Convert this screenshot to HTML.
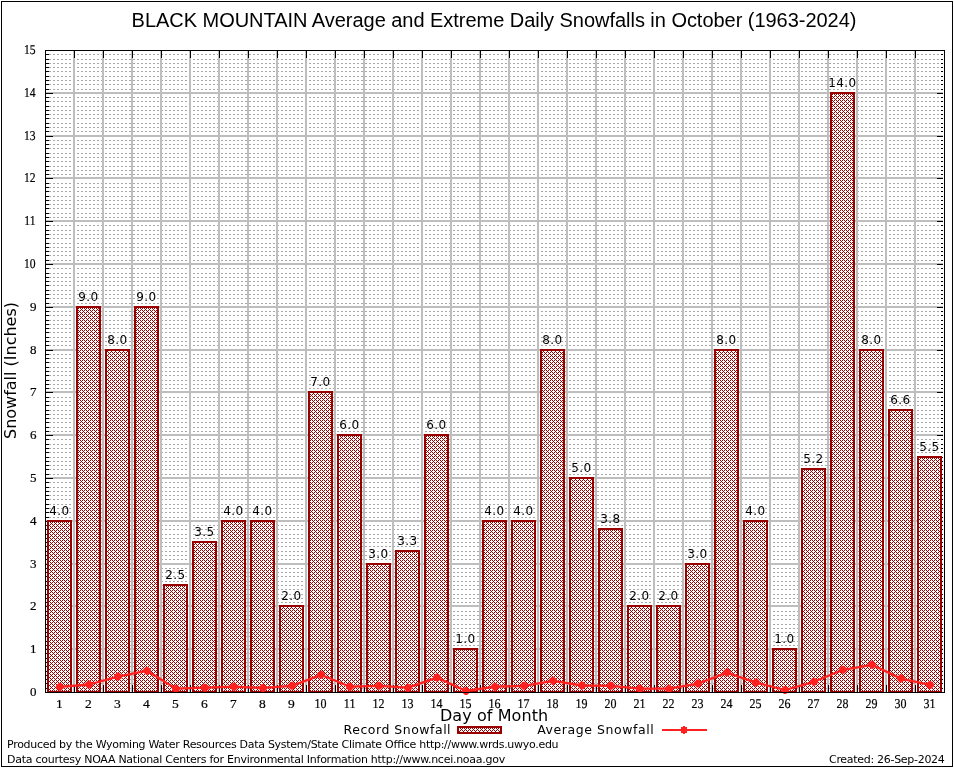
<!DOCTYPE html>
<html lang="en"><head><meta charset="utf-8"><title>BLACK MOUNTAIN Average and Extreme Daily Snowfalls in October (1963-2024)</title>
<style>html,body{margin:0;padding:0;background:#fff}body{width:954px;height:768px;overflow:hidden}svg{display:block;will-change:transform}.c{shape-rendering:crispEdges}.sv{font-family:"Liberation Serif","DejaVu Serif",serif;font-size:13px;fill:#000;stroke:#000;stroke-width:.2px}.sx{font-family:"Liberation Serif","DejaVu Serif",serif;font-size:13.5px;fill:#000;stroke:#000;stroke-width:.2px}.bl{font-family:"DejaVu Sans","Liberation Sans",sans-serif;font-size:12px;fill:#000;text-anchor:middle;letter-spacing:.33px}.ft{font-family:"DejaVu Sans","Liberation Sans",sans-serif;font-size:11px;fill:#000}.lg{font-family:"DejaVu Sans","Liberation Sans",sans-serif;font-size:12.5px;fill:#000}.ax{font-family:"DejaVu Sans","Liberation Sans",sans-serif;font-size:16px;fill:#000}.ti{font-family:"Liberation Sans","DejaVu Sans",sans-serif;font-size:20px;fill:#000}</style></head><body>
<svg width="954" height="768" viewBox="0 0 954 768">
<defs>
<pattern id="hx" x="0" y="0" width="4" height="4" patternUnits="userSpaceOnUse"><rect width="4" height="4" fill="#fff"/><g fill="#990000" class="c"><rect x="0" y="0" width="1" height="1"/><rect x="2" y="0" width="1" height="1"/><rect x="1" y="1" width="1" height="1"/><rect x="0" y="2" width="1" height="1"/><rect x="2" y="2" width="1" height="1"/><rect x="3" y="3" width="1" height="1"/></g></pattern>
<pattern id="dash" x="0" y="0" width="4" height="1" patternUnits="userSpaceOnUse"><rect x="1" y="0" width="2" height="1" fill="#a8a8a8" class="c"/></pattern>
</defs>
<rect x="0" y="0" width="954" height="768" fill="#fff"/>
<rect class="c" x="1.5" y="1.5" width="951" height="765" fill="none" stroke="#000" stroke-width="1"/>
<g class="c">
<rect x="46" y="688" width="897" height="1" fill="url(#dash)"/>
<rect x="46" y="683" width="897" height="1" fill="url(#dash)"/>
<rect x="46" y="679" width="897" height="1" fill="url(#dash)"/>
<rect x="46" y="675" width="897" height="1" fill="url(#dash)"/>
<rect x="46" y="671" width="897" height="1" fill="url(#dash)"/>
<rect x="46" y="666" width="897" height="1" fill="url(#dash)"/>
<rect x="46" y="662" width="897" height="1" fill="url(#dash)"/>
<rect x="46" y="658" width="897" height="1" fill="url(#dash)"/>
<rect x="46" y="653" width="897" height="1" fill="url(#dash)"/>
<rect x="46" y="645" width="897" height="1" fill="url(#dash)"/>
<rect x="46" y="641" width="897" height="1" fill="url(#dash)"/>
<rect x="46" y="636" width="897" height="1" fill="url(#dash)"/>
<rect x="46" y="632" width="897" height="1" fill="url(#dash)"/>
<rect x="46" y="628" width="897" height="1" fill="url(#dash)"/>
<rect x="46" y="624" width="897" height="1" fill="url(#dash)"/>
<rect x="46" y="619" width="897" height="1" fill="url(#dash)"/>
<rect x="46" y="615" width="897" height="1" fill="url(#dash)"/>
<rect x="46" y="611" width="897" height="1" fill="url(#dash)"/>
<rect x="46" y="602" width="897" height="1" fill="url(#dash)"/>
<rect x="46" y="598" width="897" height="1" fill="url(#dash)"/>
<rect x="46" y="594" width="897" height="1" fill="url(#dash)"/>
<rect x="46" y="589" width="897" height="1" fill="url(#dash)"/>
<rect x="46" y="585" width="897" height="1" fill="url(#dash)"/>
<rect x="46" y="581" width="897" height="1" fill="url(#dash)"/>
<rect x="46" y="576" width="897" height="1" fill="url(#dash)"/>
<rect x="46" y="572" width="897" height="1" fill="url(#dash)"/>
<rect x="46" y="568" width="897" height="1" fill="url(#dash)"/>
<rect x="46" y="559" width="897" height="1" fill="url(#dash)"/>
<rect x="46" y="555" width="897" height="1" fill="url(#dash)"/>
<rect x="46" y="551" width="897" height="1" fill="url(#dash)"/>
<rect x="46" y="546" width="897" height="1" fill="url(#dash)"/>
<rect x="46" y="542" width="897" height="1" fill="url(#dash)"/>
<rect x="46" y="538" width="897" height="1" fill="url(#dash)"/>
<rect x="46" y="534" width="897" height="1" fill="url(#dash)"/>
<rect x="46" y="529" width="897" height="1" fill="url(#dash)"/>
<rect x="46" y="525" width="897" height="1" fill="url(#dash)"/>
<rect x="46" y="517" width="897" height="1" fill="url(#dash)"/>
<rect x="46" y="512" width="897" height="1" fill="url(#dash)"/>
<rect x="46" y="508" width="897" height="1" fill="url(#dash)"/>
<rect x="46" y="504" width="897" height="1" fill="url(#dash)"/>
<rect x="46" y="499" width="897" height="1" fill="url(#dash)"/>
<rect x="46" y="495" width="897" height="1" fill="url(#dash)"/>
<rect x="46" y="491" width="897" height="1" fill="url(#dash)"/>
<rect x="46" y="487" width="897" height="1" fill="url(#dash)"/>
<rect x="46" y="482" width="897" height="1" fill="url(#dash)"/>
<rect x="46" y="474" width="897" height="1" fill="url(#dash)"/>
<rect x="46" y="469" width="897" height="1" fill="url(#dash)"/>
<rect x="46" y="465" width="897" height="1" fill="url(#dash)"/>
<rect x="46" y="461" width="897" height="1" fill="url(#dash)"/>
<rect x="46" y="457" width="897" height="1" fill="url(#dash)"/>
<rect x="46" y="452" width="897" height="1" fill="url(#dash)"/>
<rect x="46" y="448" width="897" height="1" fill="url(#dash)"/>
<rect x="46" y="444" width="897" height="1" fill="url(#dash)"/>
<rect x="46" y="439" width="897" height="1" fill="url(#dash)"/>
<rect x="46" y="431" width="897" height="1" fill="url(#dash)"/>
<rect x="46" y="427" width="897" height="1" fill="url(#dash)"/>
<rect x="46" y="422" width="897" height="1" fill="url(#dash)"/>
<rect x="46" y="418" width="897" height="1" fill="url(#dash)"/>
<rect x="46" y="414" width="897" height="1" fill="url(#dash)"/>
<rect x="46" y="410" width="897" height="1" fill="url(#dash)"/>
<rect x="46" y="405" width="897" height="1" fill="url(#dash)"/>
<rect x="46" y="401" width="897" height="1" fill="url(#dash)"/>
<rect x="46" y="397" width="897" height="1" fill="url(#dash)"/>
<rect x="46" y="388" width="897" height="1" fill="url(#dash)"/>
<rect x="46" y="384" width="897" height="1" fill="url(#dash)"/>
<rect x="46" y="380" width="897" height="1" fill="url(#dash)"/>
<rect x="46" y="375" width="897" height="1" fill="url(#dash)"/>
<rect x="46" y="371" width="897" height="1" fill="url(#dash)"/>
<rect x="46" y="367" width="897" height="1" fill="url(#dash)"/>
<rect x="46" y="362" width="897" height="1" fill="url(#dash)"/>
<rect x="46" y="358" width="897" height="1" fill="url(#dash)"/>
<rect x="46" y="354" width="897" height="1" fill="url(#dash)"/>
<rect x="46" y="345" width="897" height="1" fill="url(#dash)"/>
<rect x="46" y="341" width="897" height="1" fill="url(#dash)"/>
<rect x="46" y="337" width="897" height="1" fill="url(#dash)"/>
<rect x="46" y="332" width="897" height="1" fill="url(#dash)"/>
<rect x="46" y="328" width="897" height="1" fill="url(#dash)"/>
<rect x="46" y="324" width="897" height="1" fill="url(#dash)"/>
<rect x="46" y="320" width="897" height="1" fill="url(#dash)"/>
<rect x="46" y="315" width="897" height="1" fill="url(#dash)"/>
<rect x="46" y="311" width="897" height="1" fill="url(#dash)"/>
<rect x="46" y="303" width="897" height="1" fill="url(#dash)"/>
<rect x="46" y="298" width="897" height="1" fill="url(#dash)"/>
<rect x="46" y="294" width="897" height="1" fill="url(#dash)"/>
<rect x="46" y="290" width="897" height="1" fill="url(#dash)"/>
<rect x="46" y="285" width="897" height="1" fill="url(#dash)"/>
<rect x="46" y="281" width="897" height="1" fill="url(#dash)"/>
<rect x="46" y="277" width="897" height="1" fill="url(#dash)"/>
<rect x="46" y="273" width="897" height="1" fill="url(#dash)"/>
<rect x="46" y="268" width="897" height="1" fill="url(#dash)"/>
<rect x="46" y="260" width="897" height="1" fill="url(#dash)"/>
<rect x="46" y="255" width="897" height="1" fill="url(#dash)"/>
<rect x="46" y="251" width="897" height="1" fill="url(#dash)"/>
<rect x="46" y="247" width="897" height="1" fill="url(#dash)"/>
<rect x="46" y="243" width="897" height="1" fill="url(#dash)"/>
<rect x="46" y="238" width="897" height="1" fill="url(#dash)"/>
<rect x="46" y="234" width="897" height="1" fill="url(#dash)"/>
<rect x="46" y="230" width="897" height="1" fill="url(#dash)"/>
<rect x="46" y="225" width="897" height="1" fill="url(#dash)"/>
<rect x="46" y="217" width="897" height="1" fill="url(#dash)"/>
<rect x="46" y="213" width="897" height="1" fill="url(#dash)"/>
<rect x="46" y="208" width="897" height="1" fill="url(#dash)"/>
<rect x="46" y="204" width="897" height="1" fill="url(#dash)"/>
<rect x="46" y="200" width="897" height="1" fill="url(#dash)"/>
<rect x="46" y="196" width="897" height="1" fill="url(#dash)"/>
<rect x="46" y="191" width="897" height="1" fill="url(#dash)"/>
<rect x="46" y="187" width="897" height="1" fill="url(#dash)"/>
<rect x="46" y="183" width="897" height="1" fill="url(#dash)"/>
<rect x="46" y="174" width="897" height="1" fill="url(#dash)"/>
<rect x="46" y="170" width="897" height="1" fill="url(#dash)"/>
<rect x="46" y="166" width="897" height="1" fill="url(#dash)"/>
<rect x="46" y="161" width="897" height="1" fill="url(#dash)"/>
<rect x="46" y="157" width="897" height="1" fill="url(#dash)"/>
<rect x="46" y="153" width="897" height="1" fill="url(#dash)"/>
<rect x="46" y="148" width="897" height="1" fill="url(#dash)"/>
<rect x="46" y="144" width="897" height="1" fill="url(#dash)"/>
<rect x="46" y="140" width="897" height="1" fill="url(#dash)"/>
<rect x="46" y="131" width="897" height="1" fill="url(#dash)"/>
<rect x="46" y="127" width="897" height="1" fill="url(#dash)"/>
<rect x="46" y="123" width="897" height="1" fill="url(#dash)"/>
<rect x="46" y="118" width="897" height="1" fill="url(#dash)"/>
<rect x="46" y="114" width="897" height="1" fill="url(#dash)"/>
<rect x="46" y="110" width="897" height="1" fill="url(#dash)"/>
<rect x="46" y="106" width="897" height="1" fill="url(#dash)"/>
<rect x="46" y="101" width="897" height="1" fill="url(#dash)"/>
<rect x="46" y="97" width="897" height="1" fill="url(#dash)"/>
<rect x="46" y="89" width="897" height="1" fill="url(#dash)"/>
<rect x="46" y="84" width="897" height="1" fill="url(#dash)"/>
<rect x="46" y="80" width="897" height="1" fill="url(#dash)"/>
<rect x="46" y="76" width="897" height="1" fill="url(#dash)"/>
<rect x="46" y="71" width="897" height="1" fill="url(#dash)"/>
<rect x="46" y="67" width="897" height="1" fill="url(#dash)"/>
<rect x="46" y="63" width="897" height="1" fill="url(#dash)"/>
<rect x="46" y="59" width="897" height="1" fill="url(#dash)"/>
<rect x="46" y="54" width="897" height="1" fill="url(#dash)"/>
<rect x="46" y="648" width="897" height="2" fill="#bebebe"/>
<rect x="46" y="605" width="897" height="2" fill="#bebebe"/>
<rect x="46" y="563" width="897" height="2" fill="#bebebe"/>
<rect x="46" y="520" width="897" height="2" fill="#bebebe"/>
<rect x="46" y="477" width="897" height="2" fill="#bebebe"/>
<rect x="46" y="434" width="897" height="2" fill="#bebebe"/>
<rect x="46" y="391" width="897" height="2" fill="#bebebe"/>
<rect x="46" y="349" width="897" height="2" fill="#bebebe"/>
<rect x="46" y="306" width="897" height="2" fill="#bebebe"/>
<rect x="46" y="263" width="897" height="2" fill="#bebebe"/>
<rect x="46" y="220" width="897" height="2" fill="#bebebe"/>
<rect x="46" y="177" width="897" height="2" fill="#bebebe"/>
<rect x="46" y="135" width="897" height="2" fill="#bebebe"/>
<rect x="46" y="92" width="897" height="2" fill="#bebebe"/>
<rect x="73" y="51" width="2" height="641" fill="#bebebe"/>
<rect x="102" y="51" width="2" height="641" fill="#bebebe"/>
<rect x="131" y="51" width="2" height="641" fill="#bebebe"/>
<rect x="160" y="51" width="2" height="641" fill="#bebebe"/>
<rect x="189" y="51" width="2" height="641" fill="#bebebe"/>
<rect x="218" y="51" width="2" height="641" fill="#bebebe"/>
<rect x="247" y="51" width="2" height="641" fill="#bebebe"/>
<rect x="276" y="51" width="2" height="641" fill="#bebebe"/>
<rect x="305" y="51" width="2" height="641" fill="#bebebe"/>
<rect x="334" y="51" width="2" height="641" fill="#bebebe"/>
<rect x="363" y="51" width="2" height="641" fill="#bebebe"/>
<rect x="392" y="51" width="2" height="641" fill="#bebebe"/>
<rect x="421" y="51" width="2" height="641" fill="#bebebe"/>
<rect x="450" y="51" width="2" height="641" fill="#bebebe"/>
<rect x="479" y="51" width="2" height="641" fill="#bebebe"/>
<rect x="508" y="51" width="2" height="641" fill="#bebebe"/>
<rect x="537" y="51" width="2" height="641" fill="#bebebe"/>
<rect x="566" y="51" width="2" height="641" fill="#bebebe"/>
<rect x="595" y="51" width="2" height="641" fill="#bebebe"/>
<rect x="624" y="51" width="2" height="641" fill="#bebebe"/>
<rect x="653" y="51" width="2" height="641" fill="#bebebe"/>
<rect x="682" y="51" width="2" height="641" fill="#bebebe"/>
<rect x="711" y="51" width="2" height="641" fill="#bebebe"/>
<rect x="740" y="51" width="2" height="641" fill="#bebebe"/>
<rect x="769" y="51" width="2" height="641" fill="#bebebe"/>
<rect x="798" y="51" width="2" height="641" fill="#bebebe"/>
<rect x="827" y="51" width="2" height="641" fill="#bebebe"/>
<rect x="856" y="51" width="2" height="641" fill="#bebebe"/>
<rect x="885" y="51" width="2" height="641" fill="#bebebe"/>
<rect x="914" y="51" width="2" height="641" fill="#bebebe"/>
<rect x="45" y="688" width="4" height="1" fill="#000"/>
<rect x="941" y="688" width="2" height="1" fill="#000"/>
<rect x="45" y="683" width="4" height="1" fill="#000"/>
<rect x="941" y="683" width="2" height="1" fill="#000"/>
<rect x="45" y="679" width="4" height="1" fill="#000"/>
<rect x="941" y="679" width="2" height="1" fill="#000"/>
<rect x="45" y="675" width="4" height="1" fill="#000"/>
<rect x="941" y="675" width="2" height="1" fill="#000"/>
<rect x="45" y="671" width="4" height="1" fill="#000"/>
<rect x="941" y="671" width="2" height="1" fill="#000"/>
<rect x="45" y="666" width="4" height="1" fill="#000"/>
<rect x="941" y="666" width="2" height="1" fill="#000"/>
<rect x="45" y="662" width="4" height="1" fill="#000"/>
<rect x="941" y="662" width="2" height="1" fill="#000"/>
<rect x="45" y="658" width="4" height="1" fill="#000"/>
<rect x="941" y="658" width="2" height="1" fill="#000"/>
<rect x="45" y="653" width="4" height="1" fill="#000"/>
<rect x="941" y="653" width="2" height="1" fill="#000"/>
<rect x="45" y="649" width="8" height="1" fill="#000"/>
<rect x="937" y="649" width="6" height="1" fill="#000"/>
<rect x="45" y="645" width="4" height="1" fill="#000"/>
<rect x="941" y="645" width="2" height="1" fill="#000"/>
<rect x="45" y="641" width="4" height="1" fill="#000"/>
<rect x="941" y="641" width="2" height="1" fill="#000"/>
<rect x="45" y="636" width="4" height="1" fill="#000"/>
<rect x="941" y="636" width="2" height="1" fill="#000"/>
<rect x="45" y="632" width="4" height="1" fill="#000"/>
<rect x="941" y="632" width="2" height="1" fill="#000"/>
<rect x="45" y="628" width="4" height="1" fill="#000"/>
<rect x="941" y="628" width="2" height="1" fill="#000"/>
<rect x="45" y="624" width="4" height="1" fill="#000"/>
<rect x="941" y="624" width="2" height="1" fill="#000"/>
<rect x="45" y="619" width="4" height="1" fill="#000"/>
<rect x="941" y="619" width="2" height="1" fill="#000"/>
<rect x="45" y="615" width="4" height="1" fill="#000"/>
<rect x="941" y="615" width="2" height="1" fill="#000"/>
<rect x="45" y="611" width="4" height="1" fill="#000"/>
<rect x="941" y="611" width="2" height="1" fill="#000"/>
<rect x="45" y="606" width="8" height="1" fill="#000"/>
<rect x="937" y="606" width="6" height="1" fill="#000"/>
<rect x="45" y="602" width="4" height="1" fill="#000"/>
<rect x="941" y="602" width="2" height="1" fill="#000"/>
<rect x="45" y="598" width="4" height="1" fill="#000"/>
<rect x="941" y="598" width="2" height="1" fill="#000"/>
<rect x="45" y="594" width="4" height="1" fill="#000"/>
<rect x="941" y="594" width="2" height="1" fill="#000"/>
<rect x="45" y="589" width="4" height="1" fill="#000"/>
<rect x="941" y="589" width="2" height="1" fill="#000"/>
<rect x="45" y="585" width="4" height="1" fill="#000"/>
<rect x="941" y="585" width="2" height="1" fill="#000"/>
<rect x="45" y="581" width="4" height="1" fill="#000"/>
<rect x="941" y="581" width="2" height="1" fill="#000"/>
<rect x="45" y="576" width="4" height="1" fill="#000"/>
<rect x="941" y="576" width="2" height="1" fill="#000"/>
<rect x="45" y="572" width="4" height="1" fill="#000"/>
<rect x="941" y="572" width="2" height="1" fill="#000"/>
<rect x="45" y="568" width="4" height="1" fill="#000"/>
<rect x="941" y="568" width="2" height="1" fill="#000"/>
<rect x="45" y="564" width="8" height="1" fill="#000"/>
<rect x="937" y="564" width="6" height="1" fill="#000"/>
<rect x="45" y="559" width="4" height="1" fill="#000"/>
<rect x="941" y="559" width="2" height="1" fill="#000"/>
<rect x="45" y="555" width="4" height="1" fill="#000"/>
<rect x="941" y="555" width="2" height="1" fill="#000"/>
<rect x="45" y="551" width="4" height="1" fill="#000"/>
<rect x="941" y="551" width="2" height="1" fill="#000"/>
<rect x="45" y="546" width="4" height="1" fill="#000"/>
<rect x="941" y="546" width="2" height="1" fill="#000"/>
<rect x="45" y="542" width="4" height="1" fill="#000"/>
<rect x="941" y="542" width="2" height="1" fill="#000"/>
<rect x="45" y="538" width="4" height="1" fill="#000"/>
<rect x="941" y="538" width="2" height="1" fill="#000"/>
<rect x="45" y="534" width="4" height="1" fill="#000"/>
<rect x="941" y="534" width="2" height="1" fill="#000"/>
<rect x="45" y="529" width="4" height="1" fill="#000"/>
<rect x="941" y="529" width="2" height="1" fill="#000"/>
<rect x="45" y="525" width="4" height="1" fill="#000"/>
<rect x="941" y="525" width="2" height="1" fill="#000"/>
<rect x="45" y="521" width="8" height="1" fill="#000"/>
<rect x="937" y="521" width="6" height="1" fill="#000"/>
<rect x="45" y="517" width="4" height="1" fill="#000"/>
<rect x="941" y="517" width="2" height="1" fill="#000"/>
<rect x="45" y="512" width="4" height="1" fill="#000"/>
<rect x="941" y="512" width="2" height="1" fill="#000"/>
<rect x="45" y="508" width="4" height="1" fill="#000"/>
<rect x="941" y="508" width="2" height="1" fill="#000"/>
<rect x="45" y="504" width="4" height="1" fill="#000"/>
<rect x="941" y="504" width="2" height="1" fill="#000"/>
<rect x="45" y="499" width="4" height="1" fill="#000"/>
<rect x="941" y="499" width="2" height="1" fill="#000"/>
<rect x="45" y="495" width="4" height="1" fill="#000"/>
<rect x="941" y="495" width="2" height="1" fill="#000"/>
<rect x="45" y="491" width="4" height="1" fill="#000"/>
<rect x="941" y="491" width="2" height="1" fill="#000"/>
<rect x="45" y="487" width="4" height="1" fill="#000"/>
<rect x="941" y="487" width="2" height="1" fill="#000"/>
<rect x="45" y="482" width="4" height="1" fill="#000"/>
<rect x="941" y="482" width="2" height="1" fill="#000"/>
<rect x="45" y="478" width="8" height="1" fill="#000"/>
<rect x="937" y="478" width="6" height="1" fill="#000"/>
<rect x="45" y="474" width="4" height="1" fill="#000"/>
<rect x="941" y="474" width="2" height="1" fill="#000"/>
<rect x="45" y="469" width="4" height="1" fill="#000"/>
<rect x="941" y="469" width="2" height="1" fill="#000"/>
<rect x="45" y="465" width="4" height="1" fill="#000"/>
<rect x="941" y="465" width="2" height="1" fill="#000"/>
<rect x="45" y="461" width="4" height="1" fill="#000"/>
<rect x="941" y="461" width="2" height="1" fill="#000"/>
<rect x="45" y="457" width="4" height="1" fill="#000"/>
<rect x="941" y="457" width="2" height="1" fill="#000"/>
<rect x="45" y="452" width="4" height="1" fill="#000"/>
<rect x="941" y="452" width="2" height="1" fill="#000"/>
<rect x="45" y="448" width="4" height="1" fill="#000"/>
<rect x="941" y="448" width="2" height="1" fill="#000"/>
<rect x="45" y="444" width="4" height="1" fill="#000"/>
<rect x="941" y="444" width="2" height="1" fill="#000"/>
<rect x="45" y="439" width="4" height="1" fill="#000"/>
<rect x="941" y="439" width="2" height="1" fill="#000"/>
<rect x="45" y="435" width="8" height="1" fill="#000"/>
<rect x="937" y="435" width="6" height="1" fill="#000"/>
<rect x="45" y="431" width="4" height="1" fill="#000"/>
<rect x="941" y="431" width="2" height="1" fill="#000"/>
<rect x="45" y="427" width="4" height="1" fill="#000"/>
<rect x="941" y="427" width="2" height="1" fill="#000"/>
<rect x="45" y="422" width="4" height="1" fill="#000"/>
<rect x="941" y="422" width="2" height="1" fill="#000"/>
<rect x="45" y="418" width="4" height="1" fill="#000"/>
<rect x="941" y="418" width="2" height="1" fill="#000"/>
<rect x="45" y="414" width="4" height="1" fill="#000"/>
<rect x="941" y="414" width="2" height="1" fill="#000"/>
<rect x="45" y="410" width="4" height="1" fill="#000"/>
<rect x="941" y="410" width="2" height="1" fill="#000"/>
<rect x="45" y="405" width="4" height="1" fill="#000"/>
<rect x="941" y="405" width="2" height="1" fill="#000"/>
<rect x="45" y="401" width="4" height="1" fill="#000"/>
<rect x="941" y="401" width="2" height="1" fill="#000"/>
<rect x="45" y="397" width="4" height="1" fill="#000"/>
<rect x="941" y="397" width="2" height="1" fill="#000"/>
<rect x="45" y="392" width="8" height="1" fill="#000"/>
<rect x="937" y="392" width="6" height="1" fill="#000"/>
<rect x="45" y="388" width="4" height="1" fill="#000"/>
<rect x="941" y="388" width="2" height="1" fill="#000"/>
<rect x="45" y="384" width="4" height="1" fill="#000"/>
<rect x="941" y="384" width="2" height="1" fill="#000"/>
<rect x="45" y="380" width="4" height="1" fill="#000"/>
<rect x="941" y="380" width="2" height="1" fill="#000"/>
<rect x="45" y="375" width="4" height="1" fill="#000"/>
<rect x="941" y="375" width="2" height="1" fill="#000"/>
<rect x="45" y="371" width="4" height="1" fill="#000"/>
<rect x="941" y="371" width="2" height="1" fill="#000"/>
<rect x="45" y="367" width="4" height="1" fill="#000"/>
<rect x="941" y="367" width="2" height="1" fill="#000"/>
<rect x="45" y="362" width="4" height="1" fill="#000"/>
<rect x="941" y="362" width="2" height="1" fill="#000"/>
<rect x="45" y="358" width="4" height="1" fill="#000"/>
<rect x="941" y="358" width="2" height="1" fill="#000"/>
<rect x="45" y="354" width="4" height="1" fill="#000"/>
<rect x="941" y="354" width="2" height="1" fill="#000"/>
<rect x="45" y="350" width="8" height="1" fill="#000"/>
<rect x="937" y="350" width="6" height="1" fill="#000"/>
<rect x="45" y="345" width="4" height="1" fill="#000"/>
<rect x="941" y="345" width="2" height="1" fill="#000"/>
<rect x="45" y="341" width="4" height="1" fill="#000"/>
<rect x="941" y="341" width="2" height="1" fill="#000"/>
<rect x="45" y="337" width="4" height="1" fill="#000"/>
<rect x="941" y="337" width="2" height="1" fill="#000"/>
<rect x="45" y="332" width="4" height="1" fill="#000"/>
<rect x="941" y="332" width="2" height="1" fill="#000"/>
<rect x="45" y="328" width="4" height="1" fill="#000"/>
<rect x="941" y="328" width="2" height="1" fill="#000"/>
<rect x="45" y="324" width="4" height="1" fill="#000"/>
<rect x="941" y="324" width="2" height="1" fill="#000"/>
<rect x="45" y="320" width="4" height="1" fill="#000"/>
<rect x="941" y="320" width="2" height="1" fill="#000"/>
<rect x="45" y="315" width="4" height="1" fill="#000"/>
<rect x="941" y="315" width="2" height="1" fill="#000"/>
<rect x="45" y="311" width="4" height="1" fill="#000"/>
<rect x="941" y="311" width="2" height="1" fill="#000"/>
<rect x="45" y="307" width="8" height="1" fill="#000"/>
<rect x="937" y="307" width="6" height="1" fill="#000"/>
<rect x="45" y="303" width="4" height="1" fill="#000"/>
<rect x="941" y="303" width="2" height="1" fill="#000"/>
<rect x="45" y="298" width="4" height="1" fill="#000"/>
<rect x="941" y="298" width="2" height="1" fill="#000"/>
<rect x="45" y="294" width="4" height="1" fill="#000"/>
<rect x="941" y="294" width="2" height="1" fill="#000"/>
<rect x="45" y="290" width="4" height="1" fill="#000"/>
<rect x="941" y="290" width="2" height="1" fill="#000"/>
<rect x="45" y="285" width="4" height="1" fill="#000"/>
<rect x="941" y="285" width="2" height="1" fill="#000"/>
<rect x="45" y="281" width="4" height="1" fill="#000"/>
<rect x="941" y="281" width="2" height="1" fill="#000"/>
<rect x="45" y="277" width="4" height="1" fill="#000"/>
<rect x="941" y="277" width="2" height="1" fill="#000"/>
<rect x="45" y="273" width="4" height="1" fill="#000"/>
<rect x="941" y="273" width="2" height="1" fill="#000"/>
<rect x="45" y="268" width="4" height="1" fill="#000"/>
<rect x="941" y="268" width="2" height="1" fill="#000"/>
<rect x="45" y="264" width="8" height="1" fill="#000"/>
<rect x="937" y="264" width="6" height="1" fill="#000"/>
<rect x="45" y="260" width="4" height="1" fill="#000"/>
<rect x="941" y="260" width="2" height="1" fill="#000"/>
<rect x="45" y="255" width="4" height="1" fill="#000"/>
<rect x="941" y="255" width="2" height="1" fill="#000"/>
<rect x="45" y="251" width="4" height="1" fill="#000"/>
<rect x="941" y="251" width="2" height="1" fill="#000"/>
<rect x="45" y="247" width="4" height="1" fill="#000"/>
<rect x="941" y="247" width="2" height="1" fill="#000"/>
<rect x="45" y="243" width="4" height="1" fill="#000"/>
<rect x="941" y="243" width="2" height="1" fill="#000"/>
<rect x="45" y="238" width="4" height="1" fill="#000"/>
<rect x="941" y="238" width="2" height="1" fill="#000"/>
<rect x="45" y="234" width="4" height="1" fill="#000"/>
<rect x="941" y="234" width="2" height="1" fill="#000"/>
<rect x="45" y="230" width="4" height="1" fill="#000"/>
<rect x="941" y="230" width="2" height="1" fill="#000"/>
<rect x="45" y="225" width="4" height="1" fill="#000"/>
<rect x="941" y="225" width="2" height="1" fill="#000"/>
<rect x="45" y="221" width="8" height="1" fill="#000"/>
<rect x="937" y="221" width="6" height="1" fill="#000"/>
<rect x="45" y="217" width="4" height="1" fill="#000"/>
<rect x="941" y="217" width="2" height="1" fill="#000"/>
<rect x="45" y="213" width="4" height="1" fill="#000"/>
<rect x="941" y="213" width="2" height="1" fill="#000"/>
<rect x="45" y="208" width="4" height="1" fill="#000"/>
<rect x="941" y="208" width="2" height="1" fill="#000"/>
<rect x="45" y="204" width="4" height="1" fill="#000"/>
<rect x="941" y="204" width="2" height="1" fill="#000"/>
<rect x="45" y="200" width="4" height="1" fill="#000"/>
<rect x="941" y="200" width="2" height="1" fill="#000"/>
<rect x="45" y="196" width="4" height="1" fill="#000"/>
<rect x="941" y="196" width="2" height="1" fill="#000"/>
<rect x="45" y="191" width="4" height="1" fill="#000"/>
<rect x="941" y="191" width="2" height="1" fill="#000"/>
<rect x="45" y="187" width="4" height="1" fill="#000"/>
<rect x="941" y="187" width="2" height="1" fill="#000"/>
<rect x="45" y="183" width="4" height="1" fill="#000"/>
<rect x="941" y="183" width="2" height="1" fill="#000"/>
<rect x="45" y="178" width="8" height="1" fill="#000"/>
<rect x="937" y="178" width="6" height="1" fill="#000"/>
<rect x="45" y="174" width="4" height="1" fill="#000"/>
<rect x="941" y="174" width="2" height="1" fill="#000"/>
<rect x="45" y="170" width="4" height="1" fill="#000"/>
<rect x="941" y="170" width="2" height="1" fill="#000"/>
<rect x="45" y="166" width="4" height="1" fill="#000"/>
<rect x="941" y="166" width="2" height="1" fill="#000"/>
<rect x="45" y="161" width="4" height="1" fill="#000"/>
<rect x="941" y="161" width="2" height="1" fill="#000"/>
<rect x="45" y="157" width="4" height="1" fill="#000"/>
<rect x="941" y="157" width="2" height="1" fill="#000"/>
<rect x="45" y="153" width="4" height="1" fill="#000"/>
<rect x="941" y="153" width="2" height="1" fill="#000"/>
<rect x="45" y="148" width="4" height="1" fill="#000"/>
<rect x="941" y="148" width="2" height="1" fill="#000"/>
<rect x="45" y="144" width="4" height="1" fill="#000"/>
<rect x="941" y="144" width="2" height="1" fill="#000"/>
<rect x="45" y="140" width="4" height="1" fill="#000"/>
<rect x="941" y="140" width="2" height="1" fill="#000"/>
<rect x="45" y="136" width="8" height="1" fill="#000"/>
<rect x="937" y="136" width="6" height="1" fill="#000"/>
<rect x="45" y="131" width="4" height="1" fill="#000"/>
<rect x="941" y="131" width="2" height="1" fill="#000"/>
<rect x="45" y="127" width="4" height="1" fill="#000"/>
<rect x="941" y="127" width="2" height="1" fill="#000"/>
<rect x="45" y="123" width="4" height="1" fill="#000"/>
<rect x="941" y="123" width="2" height="1" fill="#000"/>
<rect x="45" y="118" width="4" height="1" fill="#000"/>
<rect x="941" y="118" width="2" height="1" fill="#000"/>
<rect x="45" y="114" width="4" height="1" fill="#000"/>
<rect x="941" y="114" width="2" height="1" fill="#000"/>
<rect x="45" y="110" width="4" height="1" fill="#000"/>
<rect x="941" y="110" width="2" height="1" fill="#000"/>
<rect x="45" y="106" width="4" height="1" fill="#000"/>
<rect x="941" y="106" width="2" height="1" fill="#000"/>
<rect x="45" y="101" width="4" height="1" fill="#000"/>
<rect x="941" y="101" width="2" height="1" fill="#000"/>
<rect x="45" y="97" width="4" height="1" fill="#000"/>
<rect x="941" y="97" width="2" height="1" fill="#000"/>
<rect x="45" y="93" width="8" height="1" fill="#000"/>
<rect x="937" y="93" width="6" height="1" fill="#000"/>
<rect x="45" y="89" width="4" height="1" fill="#000"/>
<rect x="941" y="89" width="2" height="1" fill="#000"/>
<rect x="45" y="84" width="4" height="1" fill="#000"/>
<rect x="941" y="84" width="2" height="1" fill="#000"/>
<rect x="45" y="80" width="4" height="1" fill="#000"/>
<rect x="941" y="80" width="2" height="1" fill="#000"/>
<rect x="45" y="76" width="4" height="1" fill="#000"/>
<rect x="941" y="76" width="2" height="1" fill="#000"/>
<rect x="45" y="71" width="4" height="1" fill="#000"/>
<rect x="941" y="71" width="2" height="1" fill="#000"/>
<rect x="45" y="67" width="4" height="1" fill="#000"/>
<rect x="941" y="67" width="2" height="1" fill="#000"/>
<rect x="45" y="63" width="4" height="1" fill="#000"/>
<rect x="941" y="63" width="2" height="1" fill="#000"/>
<rect x="45" y="59" width="4" height="1" fill="#000"/>
<rect x="941" y="59" width="2" height="1" fill="#000"/>
<rect x="45" y="54" width="4" height="1" fill="#000"/>
<rect x="941" y="54" width="2" height="1" fill="#000"/>
<rect x="74" y="50" width="1" height="8" fill="#000"/>
<rect x="74" y="685" width="1" height="8" fill="#000"/>
<rect x="103" y="50" width="1" height="8" fill="#000"/>
<rect x="103" y="685" width="1" height="8" fill="#000"/>
<rect x="132" y="50" width="1" height="8" fill="#000"/>
<rect x="132" y="685" width="1" height="8" fill="#000"/>
<rect x="161" y="50" width="1" height="8" fill="#000"/>
<rect x="161" y="685" width="1" height="8" fill="#000"/>
<rect x="190" y="50" width="1" height="8" fill="#000"/>
<rect x="190" y="685" width="1" height="8" fill="#000"/>
<rect x="219" y="50" width="1" height="8" fill="#000"/>
<rect x="219" y="685" width="1" height="8" fill="#000"/>
<rect x="248" y="50" width="1" height="8" fill="#000"/>
<rect x="248" y="685" width="1" height="8" fill="#000"/>
<rect x="277" y="50" width="1" height="8" fill="#000"/>
<rect x="277" y="685" width="1" height="8" fill="#000"/>
<rect x="306" y="50" width="1" height="8" fill="#000"/>
<rect x="306" y="685" width="1" height="8" fill="#000"/>
<rect x="335" y="50" width="1" height="8" fill="#000"/>
<rect x="335" y="685" width="1" height="8" fill="#000"/>
<rect x="364" y="50" width="1" height="8" fill="#000"/>
<rect x="364" y="685" width="1" height="8" fill="#000"/>
<rect x="393" y="50" width="1" height="8" fill="#000"/>
<rect x="393" y="685" width="1" height="8" fill="#000"/>
<rect x="422" y="50" width="1" height="8" fill="#000"/>
<rect x="422" y="685" width="1" height="8" fill="#000"/>
<rect x="451" y="50" width="1" height="8" fill="#000"/>
<rect x="451" y="685" width="1" height="8" fill="#000"/>
<rect x="480" y="50" width="1" height="8" fill="#000"/>
<rect x="480" y="685" width="1" height="8" fill="#000"/>
<rect x="509" y="50" width="1" height="8" fill="#000"/>
<rect x="509" y="685" width="1" height="8" fill="#000"/>
<rect x="538" y="50" width="1" height="8" fill="#000"/>
<rect x="538" y="685" width="1" height="8" fill="#000"/>
<rect x="567" y="50" width="1" height="8" fill="#000"/>
<rect x="567" y="685" width="1" height="8" fill="#000"/>
<rect x="596" y="50" width="1" height="8" fill="#000"/>
<rect x="596" y="685" width="1" height="8" fill="#000"/>
<rect x="625" y="50" width="1" height="8" fill="#000"/>
<rect x="625" y="685" width="1" height="8" fill="#000"/>
<rect x="654" y="50" width="1" height="8" fill="#000"/>
<rect x="654" y="685" width="1" height="8" fill="#000"/>
<rect x="683" y="50" width="1" height="8" fill="#000"/>
<rect x="683" y="685" width="1" height="8" fill="#000"/>
<rect x="712" y="50" width="1" height="8" fill="#000"/>
<rect x="712" y="685" width="1" height="8" fill="#000"/>
<rect x="741" y="50" width="1" height="8" fill="#000"/>
<rect x="741" y="685" width="1" height="8" fill="#000"/>
<rect x="770" y="50" width="1" height="8" fill="#000"/>
<rect x="770" y="685" width="1" height="8" fill="#000"/>
<rect x="799" y="50" width="1" height="8" fill="#000"/>
<rect x="799" y="685" width="1" height="8" fill="#000"/>
<rect x="828" y="50" width="1" height="8" fill="#000"/>
<rect x="828" y="685" width="1" height="8" fill="#000"/>
<rect x="857" y="50" width="1" height="8" fill="#000"/>
<rect x="857" y="685" width="1" height="8" fill="#000"/>
<rect x="886" y="50" width="1" height="8" fill="#000"/>
<rect x="886" y="685" width="1" height="8" fill="#000"/>
<rect x="915" y="50" width="1" height="8" fill="#000"/>
<rect x="915" y="685" width="1" height="8" fill="#000"/>
</g>
<g class="c">
<rect x="47" y="520" width="25" height="172" fill="#990000"/>
<rect x="49" y="522" width="21" height="169" fill="url(#hx)"/>
<rect x="76" y="306" width="25" height="386" fill="#990000"/>
<rect x="78" y="308" width="21" height="383" fill="url(#hx)"/>
<rect x="105" y="349" width="25" height="343" fill="#990000"/>
<rect x="107" y="351" width="21" height="340" fill="url(#hx)"/>
<rect x="134" y="306" width="25" height="386" fill="#990000"/>
<rect x="136" y="308" width="21" height="383" fill="url(#hx)"/>
<rect x="163" y="584" width="25" height="108" fill="#990000"/>
<rect x="165" y="586" width="21" height="105" fill="url(#hx)"/>
<rect x="192" y="541" width="25" height="151" fill="#990000"/>
<rect x="194" y="543" width="21" height="148" fill="url(#hx)"/>
<rect x="221" y="520" width="25" height="172" fill="#990000"/>
<rect x="223" y="522" width="21" height="169" fill="url(#hx)"/>
<rect x="250" y="520" width="25" height="172" fill="#990000"/>
<rect x="252" y="522" width="21" height="169" fill="url(#hx)"/>
<rect x="279" y="605" width="25" height="87" fill="#990000"/>
<rect x="281" y="607" width="21" height="84" fill="url(#hx)"/>
<rect x="308" y="391" width="25" height="301" fill="#990000"/>
<rect x="310" y="393" width="21" height="298" fill="url(#hx)"/>
<rect x="337" y="434" width="25" height="258" fill="#990000"/>
<rect x="339" y="436" width="21" height="255" fill="url(#hx)"/>
<rect x="366" y="563" width="25" height="129" fill="#990000"/>
<rect x="368" y="565" width="21" height="126" fill="url(#hx)"/>
<rect x="395" y="550" width="25" height="142" fill="#990000"/>
<rect x="397" y="552" width="21" height="139" fill="url(#hx)"/>
<rect x="424" y="434" width="25" height="258" fill="#990000"/>
<rect x="426" y="436" width="21" height="255" fill="url(#hx)"/>
<rect x="453" y="648" width="25" height="44" fill="#990000"/>
<rect x="455" y="650" width="21" height="41" fill="url(#hx)"/>
<rect x="482" y="520" width="25" height="172" fill="#990000"/>
<rect x="484" y="522" width="21" height="169" fill="url(#hx)"/>
<rect x="511" y="520" width="25" height="172" fill="#990000"/>
<rect x="513" y="522" width="21" height="169" fill="url(#hx)"/>
<rect x="540" y="349" width="25" height="343" fill="#990000"/>
<rect x="542" y="351" width="21" height="340" fill="url(#hx)"/>
<rect x="569" y="477" width="25" height="215" fill="#990000"/>
<rect x="571" y="479" width="21" height="212" fill="url(#hx)"/>
<rect x="598" y="528" width="25" height="164" fill="#990000"/>
<rect x="600" y="530" width="21" height="161" fill="url(#hx)"/>
<rect x="627" y="605" width="25" height="87" fill="#990000"/>
<rect x="629" y="607" width="21" height="84" fill="url(#hx)"/>
<rect x="656" y="605" width="25" height="87" fill="#990000"/>
<rect x="658" y="607" width="21" height="84" fill="url(#hx)"/>
<rect x="685" y="563" width="25" height="129" fill="#990000"/>
<rect x="687" y="565" width="21" height="126" fill="url(#hx)"/>
<rect x="714" y="349" width="25" height="343" fill="#990000"/>
<rect x="716" y="351" width="21" height="340" fill="url(#hx)"/>
<rect x="743" y="520" width="25" height="172" fill="#990000"/>
<rect x="745" y="522" width="21" height="169" fill="url(#hx)"/>
<rect x="772" y="648" width="25" height="44" fill="#990000"/>
<rect x="774" y="650" width="21" height="41" fill="url(#hx)"/>
<rect x="801" y="468" width="25" height="224" fill="#990000"/>
<rect x="803" y="470" width="21" height="221" fill="url(#hx)"/>
<rect x="830" y="92" width="25" height="600" fill="#990000"/>
<rect x="832" y="94" width="21" height="597" fill="url(#hx)"/>
<rect x="859" y="349" width="25" height="343" fill="#990000"/>
<rect x="861" y="351" width="21" height="340" fill="url(#hx)"/>
<rect x="888" y="409" width="25" height="283" fill="#990000"/>
<rect x="890" y="411" width="21" height="280" fill="url(#hx)"/>
<rect x="917" y="456" width="25" height="236" fill="#990000"/>
<rect x="919" y="458" width="21" height="233" fill="url(#hx)"/>
</g>
<text class="bl" x="59.35" y="515">4.0</text>
<text class="bl" x="88.35" y="301">9.0</text>
<text class="bl" x="117.35" y="344">8.0</text>
<text class="bl" x="146.35" y="301">9.0</text>
<text class="bl" x="175.35" y="579">2.5</text>
<text class="bl" x="204.35" y="536">3.5</text>
<text class="bl" x="233.35" y="515">4.0</text>
<text class="bl" x="262.35" y="515">4.0</text>
<text class="bl" x="291.35" y="600">2.0</text>
<text class="bl" x="320.35" y="386">7.0</text>
<text class="bl" x="349.35" y="429">6.0</text>
<text class="bl" x="378.35" y="558">3.0</text>
<text class="bl" x="407.35" y="545">3.3</text>
<text class="bl" x="436.35" y="429">6.0</text>
<text class="bl" x="465.35" y="643">1.0</text>
<text class="bl" x="494.35" y="515">4.0</text>
<text class="bl" x="523.35" y="515">4.0</text>
<text class="bl" x="552.35" y="344">8.0</text>
<text class="bl" x="581.35" y="472">5.0</text>
<text class="bl" x="610.35" y="523">3.8</text>
<text class="bl" x="639.35" y="600">2.0</text>
<text class="bl" x="668.35" y="600">2.0</text>
<text class="bl" x="697.35" y="558">3.0</text>
<text class="bl" x="726.35" y="344">8.0</text>
<text class="bl" x="755.35" y="515">4.0</text>
<text class="bl" x="784.35" y="643">1.0</text>
<text class="bl" x="813.35" y="463">5.2</text>
<text class="bl" x="842.35" y="87">14.0</text>
<text class="bl" x="871.35" y="344">8.0</text>
<text class="bl" x="900.35" y="404">6.6</text>
<text class="bl" x="929.35" y="451">5.5</text>
<polyline points="60,686.8 89,684.5 118,676.6 147,670.7 176,688.7 205,687.7 234,686.7 263,687.9 292,685.8 321,674.8 350,686.7 379,685.8 408,687.7 437,677.6 466,691 495,686.7 524,685.8 553,680.8 582,685.5 611,685.8 640,688.7 669,688.7 698,683.6 727,672.6 756,682.6 785,690 814,681.8 843,669.8 872,664.8 901,678.6 930,684.9" fill="none" stroke="#ff2020" stroke-width="2.3" stroke-linejoin="round"/>
<path d="M59,682.8L61,682.8L63.8,685.3L63.8,688.3L61,690.8L59,690.8L56.2,688.3L56.2,685.3Z" fill="#ff2020"/>
<path d="M88,680.5L90,680.5L92.8,683.0L92.8,686.0L90,688.5L88,688.5L85.2,686.0L85.2,683.0Z" fill="#ff2020"/>
<path d="M117,672.6L119,672.6L121.8,675.1L121.8,678.1L119,680.6L117,680.6L114.2,678.1L114.2,675.1Z" fill="#ff2020"/>
<path d="M146,666.7L148,666.7L150.8,669.2L150.8,672.2L148,674.7L146,674.7L143.2,672.2L143.2,669.2Z" fill="#ff2020"/>
<path d="M175,684.7L177,684.7L179.8,687.2L179.8,690.2L177,692.7L175,692.7L172.2,690.2L172.2,687.2Z" fill="#ff2020"/>
<path d="M204,683.7L206,683.7L208.8,686.2L208.8,689.2L206,691.7L204,691.7L201.2,689.2L201.2,686.2Z" fill="#ff2020"/>
<path d="M233,682.7L235,682.7L237.8,685.2L237.8,688.2L235,690.7L233,690.7L230.2,688.2L230.2,685.2Z" fill="#ff2020"/>
<path d="M262,683.9L264,683.9L266.8,686.4L266.8,689.4L264,691.9L262,691.9L259.2,689.4L259.2,686.4Z" fill="#ff2020"/>
<path d="M291,681.8L293,681.8L295.8,684.3L295.8,687.3L293,689.8L291,689.8L288.2,687.3L288.2,684.3Z" fill="#ff2020"/>
<path d="M320,670.8L322,670.8L324.8,673.3L324.8,676.3L322,678.8L320,678.8L317.2,676.3L317.2,673.3Z" fill="#ff2020"/>
<path d="M349,682.7L351,682.7L353.8,685.2L353.8,688.2L351,690.7L349,690.7L346.2,688.2L346.2,685.2Z" fill="#ff2020"/>
<path d="M378,681.8L380,681.8L382.8,684.3L382.8,687.3L380,689.8L378,689.8L375.2,687.3L375.2,684.3Z" fill="#ff2020"/>
<path d="M407,683.7L409,683.7L411.8,686.2L411.8,689.2L409,691.7L407,691.7L404.2,689.2L404.2,686.2Z" fill="#ff2020"/>
<path d="M436,673.6L438,673.6L440.8,676.1L440.8,679.1L438,681.6L436,681.6L433.2,679.1L433.2,676.1Z" fill="#ff2020"/>
<path d="M465,687L467,687L469.8,689.5L469.8,692.5L467,695L465,695L462.2,692.5L462.2,689.5Z" fill="#ff2020"/>
<path d="M494,682.7L496,682.7L498.8,685.2L498.8,688.2L496,690.7L494,690.7L491.2,688.2L491.2,685.2Z" fill="#ff2020"/>
<path d="M523,681.8L525,681.8L527.8,684.3L527.8,687.3L525,689.8L523,689.8L520.2,687.3L520.2,684.3Z" fill="#ff2020"/>
<path d="M552,676.8L554,676.8L556.8,679.3L556.8,682.3L554,684.8L552,684.8L549.2,682.3L549.2,679.3Z" fill="#ff2020"/>
<path d="M581,681.5L583,681.5L585.8,684.0L585.8,687.0L583,689.5L581,689.5L578.2,687.0L578.2,684.0Z" fill="#ff2020"/>
<path d="M610,681.8L612,681.8L614.8,684.3L614.8,687.3L612,689.8L610,689.8L607.2,687.3L607.2,684.3Z" fill="#ff2020"/>
<path d="M639,684.7L641,684.7L643.8,687.2L643.8,690.2L641,692.7L639,692.7L636.2,690.2L636.2,687.2Z" fill="#ff2020"/>
<path d="M668,684.7L670,684.7L672.8,687.2L672.8,690.2L670,692.7L668,692.7L665.2,690.2L665.2,687.2Z" fill="#ff2020"/>
<path d="M697,679.6L699,679.6L701.8,682.1L701.8,685.1L699,687.6L697,687.6L694.2,685.1L694.2,682.1Z" fill="#ff2020"/>
<path d="M726,668.6L728,668.6L730.8,671.1L730.8,674.1L728,676.6L726,676.6L723.2,674.1L723.2,671.1Z" fill="#ff2020"/>
<path d="M755,678.6L757,678.6L759.8,681.1L759.8,684.1L757,686.6L755,686.6L752.2,684.1L752.2,681.1Z" fill="#ff2020"/>
<path d="M784,686L786,686L788.8,688.5L788.8,691.5L786,694L784,694L781.2,691.5L781.2,688.5Z" fill="#ff2020"/>
<path d="M813,677.8L815,677.8L817.8,680.3L817.8,683.3L815,685.8L813,685.8L810.2,683.3L810.2,680.3Z" fill="#ff2020"/>
<path d="M842,665.8L844,665.8L846.8,668.3L846.8,671.3L844,673.8L842,673.8L839.2,671.3L839.2,668.3Z" fill="#ff2020"/>
<path d="M871,660.8L873,660.8L875.8,663.3L875.8,666.3L873,668.8L871,668.8L868.2,666.3L868.2,663.3Z" fill="#ff2020"/>
<path d="M900,674.6L902,674.6L904.8,677.1L904.8,680.1L902,682.6L900,682.6L897.2,680.1L897.2,677.1Z" fill="#ff2020"/>
<path d="M929,680.9L931,680.9L933.8,683.4L933.8,686.4L931,688.9L929,688.9L926.2,686.4L926.2,683.4Z" fill="#ff2020"/>
<g class="c" fill="#000"><rect x="45" y="50" width="900" height="1"/><rect x="45" y="692" width="900" height="1"/><rect x="45" y="50" width="1" height="643"/><rect x="944" y="50" width="1" height="643"/></g>
<text class="sv" x="36.6" y="695.9" text-anchor="end">0</text>
<text class="sv" x="36.6" y="652.9" text-anchor="end">1</text>
<text class="sv" x="36.6" y="609.9" text-anchor="end">2</text>
<text class="sv" x="36.6" y="567.9" text-anchor="end">3</text>
<text class="sv" x="36.6" y="524.9" text-anchor="end">4</text>
<text class="sv" x="36.6" y="481.9" text-anchor="end">5</text>
<text class="sv" x="36.6" y="438.9" text-anchor="end">6</text>
<text class="sv" x="36.6" y="395.9" text-anchor="end">7</text>
<text class="sv" x="36.6" y="353.9" text-anchor="end">8</text>
<text class="sv" x="36.6" y="310.9" text-anchor="end">9</text>
<text class="sv" style="font-size:13.5px;text-rendering:geometricPrecision" transform="translate(35.5,267.8) scale(.86,1)" text-anchor="end">10</text>
<text class="sv" style="font-size:13.5px;text-rendering:geometricPrecision" transform="translate(35.5,224.8) scale(.86,1)" text-anchor="end">11</text>
<text class="sv" style="font-size:13.5px;text-rendering:geometricPrecision" transform="translate(35.5,181.8) scale(.86,1)" text-anchor="end">12</text>
<text class="sv" style="font-size:13.5px;text-rendering:geometricPrecision" transform="translate(35.5,139.8) scale(.86,1)" text-anchor="end">13</text>
<text class="sv" style="font-size:13.5px;text-rendering:geometricPrecision" transform="translate(35.5,96.8) scale(.86,1)" text-anchor="end">14</text>
<text class="sv" style="font-size:13.5px;text-rendering:geometricPrecision" transform="translate(35.5,53.8) scale(.86,1)" text-anchor="end">15</text>
<text class="sx" x="59.3" y="708" text-anchor="middle">1</text>
<text class="sx" x="88.3" y="708" text-anchor="middle">2</text>
<text class="sx" x="117.3" y="708" text-anchor="middle">3</text>
<text class="sx" x="146.3" y="708" text-anchor="middle">4</text>
<text class="sx" x="175.3" y="708" text-anchor="middle">5</text>
<text class="sx" x="204.3" y="708" text-anchor="middle">6</text>
<text class="sx" x="233.3" y="708" text-anchor="middle">7</text>
<text class="sx" x="262.3" y="708" text-anchor="middle">8</text>
<text class="sx" x="291.3" y="708" text-anchor="middle">9</text>
<text class="sx" style="font-size:13.5px;text-rendering:geometricPrecision" transform="translate(320.6,708) scale(.89,1)" text-anchor="middle">10</text>
<text class="sx" style="font-size:13.5px;text-rendering:geometricPrecision" transform="translate(349.6,708) scale(.89,1)" text-anchor="middle">11</text>
<text class="sx" style="font-size:13.5px;text-rendering:geometricPrecision" transform="translate(378.6,708) scale(.89,1)" text-anchor="middle">12</text>
<text class="sx" style="font-size:13.5px;text-rendering:geometricPrecision" transform="translate(407.6,708) scale(.89,1)" text-anchor="middle">13</text>
<text class="sx" style="font-size:13.5px;text-rendering:geometricPrecision" transform="translate(436.6,708) scale(.89,1)" text-anchor="middle">14</text>
<text class="sx" style="font-size:13.5px;text-rendering:geometricPrecision" transform="translate(465.6,708) scale(.89,1)" text-anchor="middle">15</text>
<text class="sx" style="font-size:13.5px;text-rendering:geometricPrecision" transform="translate(494.6,708) scale(.89,1)" text-anchor="middle">16</text>
<text class="sx" style="font-size:13.5px;text-rendering:geometricPrecision" transform="translate(523.6,708) scale(.89,1)" text-anchor="middle">17</text>
<text class="sx" style="font-size:13.5px;text-rendering:geometricPrecision" transform="translate(552.6,708) scale(.89,1)" text-anchor="middle">18</text>
<text class="sx" style="font-size:13.5px;text-rendering:geometricPrecision" transform="translate(581.6,708) scale(.89,1)" text-anchor="middle">19</text>
<text class="sx" style="font-size:13.5px;text-rendering:geometricPrecision" transform="translate(610.6,708) scale(.89,1)" text-anchor="middle">20</text>
<text class="sx" style="font-size:13.5px;text-rendering:geometricPrecision" transform="translate(639.6,708) scale(.89,1)" text-anchor="middle">21</text>
<text class="sx" style="font-size:13.5px;text-rendering:geometricPrecision" transform="translate(668.6,708) scale(.89,1)" text-anchor="middle">22</text>
<text class="sx" style="font-size:13.5px;text-rendering:geometricPrecision" transform="translate(697.6,708) scale(.89,1)" text-anchor="middle">23</text>
<text class="sx" style="font-size:13.5px;text-rendering:geometricPrecision" transform="translate(726.6,708) scale(.89,1)" text-anchor="middle">24</text>
<text class="sx" style="font-size:13.5px;text-rendering:geometricPrecision" transform="translate(755.6,708) scale(.89,1)" text-anchor="middle">25</text>
<text class="sx" style="font-size:13.5px;text-rendering:geometricPrecision" transform="translate(784.6,708) scale(.89,1)" text-anchor="middle">26</text>
<text class="sx" style="font-size:13.5px;text-rendering:geometricPrecision" transform="translate(813.6,708) scale(.89,1)" text-anchor="middle">27</text>
<text class="sx" style="font-size:13.5px;text-rendering:geometricPrecision" transform="translate(842.6,708) scale(.89,1)" text-anchor="middle">28</text>
<text class="sx" style="font-size:13.5px;text-rendering:geometricPrecision" transform="translate(871.6,708) scale(.89,1)" text-anchor="middle">29</text>
<text class="sx" style="font-size:13.5px;text-rendering:geometricPrecision" transform="translate(900.6,708) scale(.89,1)" text-anchor="middle">30</text>
<text class="sx" style="font-size:13.5px;text-rendering:geometricPrecision" transform="translate(929.6,708) scale(.89,1)" text-anchor="middle">31</text>
<text class="ti" x="131.6" y="26.8" textLength="724.8" lengthAdjust="spacing">BLACK MOUNTAIN Average and Extreme Daily Snowfalls in October (1963-2024)</text>
<text class="ax" x="439.9" y="721" textLength="108.3" lengthAdjust="spacing">Day of Month</text>
<text class="ax" transform="translate(15.7,370.5) rotate(-90)" text-anchor="middle">Snowfall (Inches)</text>
<text class="lg" x="343.6" y="733.8" textLength="107" lengthAdjust="spacing">Record Snowfall</text>
<g class="c"><rect x="457" y="726" width="45" height="8" fill="#990000"/><rect x="459" y="728" width="41" height="4" fill="url(#hx)"/></g>
<text class="lg" x="537.2" y="733.8" textLength="116.6" lengthAdjust="spacing">Average Snowfall</text>
<rect class="c" x="662" y="729" width="45" height="2" fill="#ff2020"/>
<path class="c" d="M683,726h2v1h2v6h-2v1h-2v-1h-2v-6h2z" fill="#ff2020"/>
<text class="ft" x="7" y="748" textLength="551.6" lengthAdjust="spacing">Produced by the Wyoming Water Resources Data System/State Climate Office http://www.wrds.uwyo.edu</text>
<text class="ft" x="7" y="763" textLength="498.2" lengthAdjust="spacing">Data courtesy NOAA National Centers for Environmental Information http://www.ncei.noaa.gov</text>
<text class="ft" x="829" y="763" textLength="115.8" lengthAdjust="spacing">Created: 26-Sep-2024</text>
</svg></body></html>
